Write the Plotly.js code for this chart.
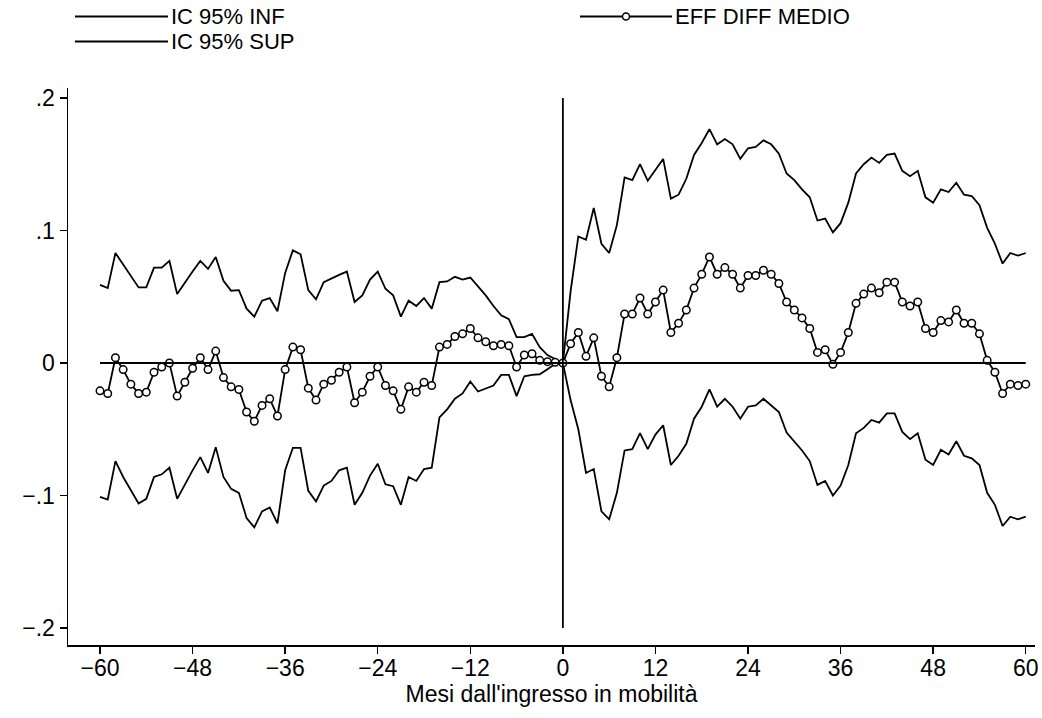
<!DOCTYPE html>
<html>
<head>
<meta charset="utf-8">
<script src="https://cdn.plot.ly/plotly-3.0.1.min.js"></script>
<style>html,body{margin:0;padding:0;background:#fff;}#chart{width:1042px;height:718px;}</style>
</head>
<body>
<div id="chart"></div>
<script>
const months = [-60,-59,-58,-57,-56,-55,-54,-53,-52,-51,-50,-49,-48,-47,-46,-45,-44,-43,-42,-41,-40,-39,-38,-37,-36,-35,-34,-33,-32,-31,-30,-29,-28,-27,-26,-25,-24,-23,-22,-21,-20,-19,-18,-17,-16,-15,-14,-13,-12,-11,-10,-9,-8,-7,-6,-5,-4,-3,-2,-1,0,1,2,3,4,5,6,7,8,9,10,11,12,13,14,15,16,17,18,19,20,21,22,23,24,25,26,27,28,29,30,31,32,33,34,35,36,37,38,39,40,41,42,43,44,45,46,47,48,49,50,51,52,53,54,55,56,57,58,59,60];

const effDiffMedio = [-0.021,-0.023,0.004,-0.005,-0.016,-0.023,-0.022,-0.007,-0.003,0.000,-0.025,-0.0145,-0.004,0.004,-0.005,0.009,-0.011,-0.018,-0.020,-0.037,-0.044,-0.032,-0.027,-0.040,-0.005,0.012,0.010,-0.019,-0.028,-0.016,-0.013,-0.007,-0.003,-0.030,-0.022,-0.010,-0.003,-0.017,-0.021,-0.035,-0.018,-0.022,-0.0145,-0.017,0.012,0.014,0.020,0.022,0.026,0.019,0.016,0.013,0.014,0.013,-0.003,0.006,0.007,0.002,0.001,0.0005,0,0.0145,0.023,0.005,0.019,-0.010,-0.018,0.004,0.037,0.037,0.049,0.037,0.046,0.055,0.023,0.030,0.040,0.0565,0.067,0.080,0.067,0.072,0.067,0.0565,0.066,0.066,0.070,0.067,0.060,0.046,0.040,0.034,0.026,0.008,0.010,-0.001,0.008,0.023,0.045,0.052,0.0565,0.053,0.061,0.061,0.046,0.043,0.046,0.026,0.023,0.032,0.031,0.040,0.030,0.030,0.022,0.002,-0.007,-0.023,-0.016,-0.017,-0.016];

const ic95Sup = [0.059,0.0565,0.083,0.074,0.066,0.057,0.057,0.072,0.072,0.077,0.052,0.061,0.069,0.077,0.071,0.080,0.062,0.0545,0.055,0.041,0.035,0.047,0.049,0.039,0.068,0.085,0.082,0.055,0.048,0.061,0.064,0.0665,0.069,0.046,0.051,0.063,0.069,0.056,0.051,0.035,0.047,0.043,0.049,0.041,0.061,0.0615,0.065,0.063,0.0645,0.058,0.051,0.043,0.036,0.033,0.0195,0.0195,0.022,0.012,0.006,0.003,0,0.054,0.0955,0.093,0.117,0.090,0.083,0.104,0.140,0.138,0.150,0.1375,0.146,0.154,0.124,0.127,0.139,0.157,0.166,0.1765,0.165,0.169,0.165,0.154,0.162,0.163,0.168,0.165,0.158,0.143,0.138,0.131,0.125,0.1075,0.109,0.0985,0.1055,0.121,0.143,0.150,0.155,0.151,0.157,0.158,0.145,0.141,0.145,0.125,0.121,0.131,0.129,0.136,0.127,0.126,0.119,0.102,0.090,0.075,0.083,0.081,0.083];

const ic95Inf = [-0.101,-0.103,-0.074,-0.086,-0.096,-0.106,-0.1025,-0.086,-0.084,-0.079,-0.1025,-0.0915,-0.081,-0.071,-0.083,-0.0635,-0.086,-0.095,-0.098,-0.117,-0.124,-0.112,-0.109,-0.121,-0.081,-0.064,-0.064,-0.0965,-0.1045,-0.0925,-0.089,-0.081,-0.079,-0.107,-0.098,-0.085,-0.076,-0.0915,-0.093,-0.107,-0.086,-0.089,-0.080,-0.079,-0.041,-0.035,-0.027,-0.023,-0.014,-0.0215,-0.0195,-0.017,-0.009,-0.009,-0.025,-0.010,-0.009,-0.0085,-0.0047,-0.0006,0,-0.028,-0.050,-0.083,-0.080,-0.112,-0.118,-0.098,-0.066,-0.065,-0.053,-0.065,-0.054,-0.047,-0.077,-0.070,-0.061,-0.042,-0.033,-0.020,-0.033,-0.027,-0.033,-0.042,-0.033,-0.032,-0.027,-0.032,-0.037,-0.0525,-0.059,-0.066,-0.074,-0.092,-0.089,-0.100,-0.0925,-0.077,-0.053,-0.049,-0.043,-0.045,-0.038,-0.038,-0.052,-0.0575,-0.053,-0.073,-0.077,-0.0655,-0.069,-0.059,-0.070,-0.072,-0.077,-0.098,-0.107,-0.123,-0.116,-0.118,-0.116];

const xTickVals = [-60,-48,-36,-24,-12,0,12,24,36,48,60];
const xTickText = ['\u221260','\u221248','\u221236','\u221224','\u221212','0','12','24','36','48','60'];
const yTickVals = [-0.2,-0.1,0,0.1,0.2];
const yTickText = ['\u2212.2','\u2212.1','0','.1','.2'];
const seriesNames = ['IC 95% INF','IC 95% SUP','EFF DIFF MEDIO'];
const xTitle = "Mesi dall'ingresso in mobilità";

const FONT = 'Liberation Sans, Arial, sans-serif';
const W = 1042, H = 718;
const M = {l: 68, r: 7, t: 88, b: 73};
const pw = W - M.l - M.r, ph = H - M.t - M.b;
const px2x = px => (px - M.l) / pw;
const py2y = py => (H - M.b - py) / ph;
const LW = 1.8;

const traces = [
  {x: months, y: ic95Inf, name: seriesNames[0], mode: 'lines', line: {color: '#000', width: LW}, showlegend: false},
  {x: months, y: ic95Sup, name: seriesNames[1], mode: 'lines', line: {color: '#000', width: LW}, showlegend: false},
  {x: months, y: effDiffMedio, name: seriesNames[2], mode: 'lines+markers', line: {color: '#000', width: LW},
   marker: {symbol: 'circle', size: 7.5, color: '#fff', line: {color: '#000', width: 1.5}}, showlegend: false}
];

const legendItems = [
  {name: seriesNames[0], x0: 75, x1: 168, y: 16.5, marker: false},
  {name: seriesNames[2], x0: 580, x1: 672, y: 16.5, marker: true},
  {name: seriesNames[1], x0: 75, x1: 168, y: 41.5, marker: false}
];

const shapes = [
  {type: 'line', xref: 'x', yref: 'y', x0: months[0], x1: months[months.length-1], y0: 0, y1: 0, line: {color: '#000', width: LW}},
  {type: 'line', xref: 'x', yref: 'y', x0: 0, x1: 0, y0: yTickVals[0], y1: yTickVals[yTickVals.length-1], line: {color: '#000', width: LW}}
];
const annotations = [];
legendItems.forEach(it => {
  shapes.push({type: 'line', xref: 'paper', yref: 'paper', x0: px2x(it.x0), x1: px2x(it.x1), y0: py2y(it.y), y1: py2y(it.y), line: {color: '#000', width: LW}});
  if (it.marker) {
    shapes.push({type: 'circle', xref: 'paper', yref: 'paper', xsizemode: 'pixel', ysizemode: 'pixel',
      xanchor: px2x((it.x0 + it.x1) / 2), yanchor: py2y(it.y), x0: -3.5, x1: 3.5, y0: -3.5, y1: 3.5,
      fillcolor: '#fff', line: {color: '#000', width: 1.5}});
  }
  annotations.push({xref: 'paper', yref: 'paper', x: px2x(it.x1 + 2), y: py2y(it.y), text: it.name,
    showarrow: false, xanchor: 'left', yanchor: 'middle', borderpad: 0, font: {family: FONT, size: 22, color: '#000'}});
});

const layout = {
  width: W, height: H,
  margin: M,
  paper_bgcolor: '#fff', plot_bgcolor: '#fff',
  showlegend: false,
  font: {family: FONT, size: 23, color: '#000'},
  xaxis: {
    range: [-64.15, 61.2], tickvals: xTickVals, ticktext: xTickText,
    ticks: 'outside', ticklen: 7, tickwidth: 1.5, tickcolor: '#000',
    showline: true, linecolor: '#000', linewidth: 1.5, showgrid: false, zeroline: false,
    tickfont: {family: FONT, size: 23, color: '#000'},
    ticklabelstandoff: -5,
    title: {text: xTitle, font: {family: FONT, size: 23, color: '#000'}, standoff: 0}
  },
  yaxis: {
    range: [-0.2128, 0.2075], tickvals: yTickVals, ticktext: yTickText,
    ticks: 'outside', ticklen: 7, tickwidth: 1.5, tickcolor: '#000',
    showline: true, linecolor: '#000', linewidth: 1.5, showgrid: false, zeroline: false,
    tickfont: {family: FONT, size: 23, color: '#000'}
  },
  shapes: shapes,
  annotations: annotations
};

Plotly.newPlot('chart', traces, layout, {displayModeBar: false, staticPlot: true});
</script>
</body>
</html>
